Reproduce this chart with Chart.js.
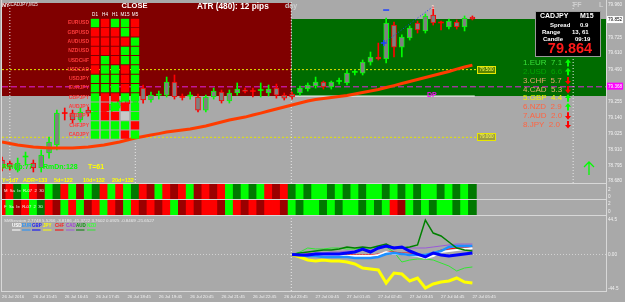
<!DOCTYPE html>
<html>
<head>
<meta charset="utf-8">
<title>CADJPY,M15</title>
<script src="https://cdn.jsdelivr.net/npm/chart.js@4.4.1/dist/chart.umd.min.js"></script>
<style>
  html, body { margin:0; padding:0; background:#a9a9a9; }
  body { position:relative; width:625px; height:302px; overflow:hidden; }
  canvas { position:absolute; display:block; }
</style>
</head>
<body>
<canvas id="cMain" width="625" height="186" style="left:0;top:0;width:625px;height:186px"></canvas>
<canvas id="cS1" width="625" height="16" style="left:0;top:184px;width:625px;height:16px"></canvas>
<canvas id="cS2" width="625" height="16" style="left:0;top:200px;width:625px;height:16px"></canvas>
<canvas id="cInd" width="625" height="86" style="left:0;top:216px;width:625px;height:86px"></canvas>
<canvas id="cHeat" width="101" height="133" style="left:39px;top:8px;width:101px;height:133px"></canvas>
<script>
// ================= DATA =================
const TIME_TICKS = [0,4,8,12,16,20,24,28,32,36,40,44,48,52,56,60];
const TIME_LABELS = ['26 Jul 2016','26 Jul 15:45','26 Jul 16:45','26 Jul 17:45','26 Jul 18:45','26 Jul 19:45',
  '26 Jul 20:45','26 Jul 21:45','26 Jul 22:45','26 Jul 23:45','27 Jul 00:45','27 Jul 01:45','27 Jul 02:45',
  '27 Jul 03:45','27 Jul 04:45','27 Jul 05:45'];

const PRICE_TICKS = [79.960, 79.852, 79.725, 79.610, 79.490, 79.368, 79.255, 79.140, 79.025, 78.910, 78.795, 78.680];
const PRICE_BOXES = { '79.852': ['#ffffff', '#000000'], '79.368': ['#ff00ff', '#ffffff'] };

const CANDLE_IDX = [0,1,2,3,4,5,6,7,8,9,10,11,12,13,14,15,16,17,18,19,20,21,22,23,24,25,26,27,28,29,30,
  31,32,33,34,35,36,37,38,39,40,41,42,43,44,45,46,47,48,49,50,51,52,53,54,55,56,57,58,59,60];
const OPEN  = [78.833,78.811,78.760,78.855,78.811,78.775,78.884,78.942,79.178,79.174,79.124,79.196,79.167,79.225,79.196,79.225,
  79.269,79.247,79.356,79.269,79.305,79.305,79.400,79.295,79.298,79.291,79.196,79.291,79.327,79.262,79.320,79.342,79.338,
  79.338,79.320,79.356,79.305,79.313,79.320,79.349,79.371,79.400,79.364,79.404,79.393,79.470,79.465,79.545,79.582,79.567,
  79.814,79.654,79.720,79.829,79.771,79.887,79.836,79.800,79.836,79.800,79.872];
const HIGH  = [78.855,78.826,78.847,78.891,78.833,78.906,79.000,79.196,79.211,79.196,79.211,79.218,79.233,79.240,79.254,79.269,
  79.283,79.291,79.378,79.327,79.334,79.436,79.451,79.313,79.327,79.313,79.305,79.356,79.342,79.342,79.393,79.356,79.356,
  79.393,79.378,79.385,79.320,79.327,79.371,79.393,79.436,79.407,79.407,79.429,79.487,79.487,79.560,79.618,79.683,79.865,
  79.836,79.742,79.807,79.843,79.894,79.945,79.843,79.858,79.851,79.880,79.880];
const LOW   = [78.753,78.760,78.746,78.796,78.746,78.746,78.847,78.906,79.124,79.102,79.109,79.153,79.153,79.167,79.182,79.211,
  79.225,79.233,79.247,79.254,79.276,79.291,79.276,79.269,79.276,79.182,79.182,79.276,79.247,79.247,79.305,79.320,79.291,
  79.291,79.298,79.283,79.269,79.276,79.305,79.334,79.356,79.349,79.349,79.385,79.378,79.451,79.451,79.523,79.560,79.538,
  79.582,79.582,79.705,79.756,79.756,79.814,79.778,79.785,79.785,79.771,79.851];
const CLOSE = [78.775,78.782,78.811,78.862,78.775,78.869,78.964,79.174,79.171,79.124,79.182,79.174,79.211,79.182,79.240,79.262,
  79.240,79.283,79.269,79.305,79.312,79.400,79.291,79.288,79.305,79.196,79.291,79.334,79.262,79.320,79.349,79.331,79.331,
  79.345,79.349,79.305,79.283,79.291,79.356,79.378,79.400,79.364,79.400,79.411,79.465,79.477,79.545,79.582,79.567,79.829,
  79.654,79.727,79.792,79.778,79.880,79.829,79.829,79.843,79.800,79.865,79.858];
const MA = [78.964,78.953,78.942,78.935,78.927,78.924,78.920,78.920,78.920,78.920,78.924,78.927,78.935,78.942,78.953,78.964,
  78.978,78.993,79.004,79.015,79.025,79.036,79.044,79.051,79.058,79.069,79.080,79.095,79.109,79.124,79.135,79.145,79.160,
  79.174,79.189,79.204,79.218,79.233,79.247,79.262,79.273,79.280,79.287,79.294,79.302,79.313,79.324,79.334,79.345,79.360,
  79.374,79.389,79.404,79.418,79.433,79.447,79.462,79.476,79.494,79.509,79.523];

const LEVELS = [79.490, 78.998];
const LEVEL_LABELS = ['79.500', '79.000'];
const PIVOT_LEVEL = 79.365;
const ZONE_RED_TOP = 79.974, ZONE_GREEN_TOP = 79.858, ZONE_BOTTOM = 79.298;
const DAY_X = 36.9;

const HEAT_TF = ['D1','H4','H1','M15','M5'];
const HEAT_PAIRS = ['EURUSD','GBPUSD','AUDUSD','NZDUSD','USDCHF','USDCAD','USDJPY','EURJPY','GBPJPY','AUDJPY','NZDJPY','CHFJPY','CADJPY'];
const HEAT_STATE = ['GRGGR','RRRGR','RRRRG','RRRGG','RGRGG','RGGRG','GGGRG','GGGRG','GRRGG','GRGRG','GRRNG','GGGGR','GGGRG'];

const STRIP1 = 'rRgGRrGgRGrGgRGRGg' + 'RrGRrRG' + 'rRrR' + 'GgGgG' + 'RrR' + 'gGgGGgGgGgGGgGgGgGGgGgGg';
const STRIP2 = 'RGrRGgRrGRGrRGRrGR' + 'rRrRGrRrRRrGRrRrRRr' + 'GgGGgGgGGgGgGRrGgGgGGgGg';

const IND_IDX = [37,38,39,40,41,42,43,44,45,46,47,48,49,50,51,52,53,54,55,56,57,58,59,60];
const CURRENCIES = ['USD','EUR','GBP','JPY','CHF','CAD','AUD','NZD'];
const IND_USD = [0,0.6,-0.6,-0.6,-0.6,-1.9,-1.9,-1.9,-1.9,-1.9,-1.9,-0.6,3.2,0.6,0.6,-0.6,-1.9,-4.5,-1.9,3.2,4.5,5.8,7.1,8.4];
const IND_EUR = [0,-0.6,-1.9,-1.9,-3.2,-3.2,-3.2,-3.2,-4.5,-4.5,-4.5,-3.2,0.6,1.9,0.6,-0.6,-0.6,-0.6,1.9,4.5,9.7,11.0,11.0,11.0];
const IND_GBP = [0,-0.6,-0.6,0.6,0.6,0.6,0.6,1.9,3.2,7.1,3.2,8.4,11.0,8.4,9.7,4.5,0.6,-3.2,1.9,-0.6,-1.9,-0.6,0.6,1.9];
const IND_JPY = [0,-3.2,-7.1,-8.4,-7.1,-8.4,-8.4,-9.7,-12.3,-17.4,-18.7,-20.0,-36.8,-23.9,-25.2,-34.2,-30.3,-43.2,-38.1,-35.5,-34.2,-30.3,-35.5,-36.8];
const IND_CHF = [0,0.6,0.6,0.6,-0.6,-0.6,-0.6,-0.6,-0.6,-0.6,-0.6,0.6,3.2,3.2,1.9,1.9,0.6,-0.6,1.9,5.8,7.1,8.4,8.4,9.7];
const IND_CAD = [0,0.6,0.6,1.9,1.9,3.2,3.2,4.5,4.5,5.8,5.8,7.1,9.7,9.7,9.7,8.4,8.4,8.4,9.7,11.0,12.3,13.5,13.5,13.5];
const IND_AUD = [0,1.9,3.2,4.5,5.8,5.8,7.1,9.7,8.4,9.7,8.4,11.0,13.5,8.4,8.4,9.7,12.3,44.5,27.7,23.9,16.1,8.4,5.8,4.5];
const IND_NZD = [0,3.2,8.4,7.1,7.1,8.4,8.4,7.1,7.1,8.4,8.4,9.7,9.7,3.2,-9.7,-7.1,-5.8,-5.8,-7.1,-11.0,-14.8,-21.3,-17.4,-16.1];
const IND_TICKS = [44.5, 0, -44.5];
const SM_VALUES = ['2.7748','5.5266','-3.8186','-41.3722','3.7602','0.0925','-0.8469','-21.6527'];

const STRENGTH_NAMES = ['1.EUR','2.USD','3.CHF','4.CAD','5.GBP','6.NZD','7.AUD','8.JPY'];
const STRENGTH_VALUES = [7.1, 6.6, 5.7, 5.3, 4.4, 2.9, 2.0, 2.0];
const STRENGTH_UP = [true, true, false, false, true, true, false, false];

const INFO = { pair:'CADJPY', tf:'M15', spread:'0.9', range:'13, 61', candle:'09:19', price:'79.864' };
const STATS = ['Y=1d7', 'ADR=133', '5d=122', '10d=132', '20d=132'];
const ROOMS = ['RmUp:77', 'RmDn:128', 'T=61'];

// ================= STYLE =================
const FONT = '"Liberation Sans", Arial, sans-serif';
Chart.defaults.font.family = FONT;
const X_MIN = 0, X_MAX = 77.04;
const BULL = '#00ff00', BEAR = '#ff0000', BODY = '#808080';
const STRIP_COLORS = { G:'#00ff00', g:'#007800', R:'#ff0000', r:'#9a0000' };
const HEAT_COLORS = { G:'#00ff00', R:'#ff0000', N:'#c8c8c8' };
const CUR_LINE = ['#ffffff','#1e90ff','#0000ff','#ffff00','#ff0000','#9a5ad8','#008000','#32e632'];
const CUR_TEXT = ['#ffffff','#1e90ff','#1414ff','#ffff00','#ff1a1a','#a040d8','#009a00','#3cff3c'];
const CUR_WIDTH = [2, 2.5, 3, 3, 1, 1, 1.5, 1];
const CUR_ORDER = [4, 3, 1, 7, 5, 6, 2, 6];
const STRENGTH_COLORS = ['#38e038','#00a400','#e2a46a','#e0b06c','#f2f200','#ff6442','#ff6442','#ff6442'];

const common = {
  responsive:false, animation:false, devicePixelRatio:1, events:[],
  plugins:{ legend:{display:false}, tooltip:{enabled:false} }
};
function xHidden(){ return { type:'linear', min:X_MIN, max:X_MAX, display:false, offset:false }; }

function txt(ctx, s, x, y, color, size, weight, align) {
  ctx.save();
  ctx.font = (weight || 'normal') + ' ' + size + 'px ' + FONT;
  ctx.fillStyle = color; ctx.textAlign = align || 'left'; ctx.textBaseline = 'middle';
  ctx.fillText(s, x, y);
  ctx.restore();
}
function frame(){
  return { id:'frame', afterDraw(chart){
    const {ctx, chartArea:a} = chart;
    ctx.save(); ctx.strokeStyle = '#d8d8d8'; ctx.lineWidth = 1; ctx.beginPath();
    ctx.moveTo(a.left - 0.5, a.bottom + 0.5); ctx.lineTo(a.right + 0.5, a.bottom + 0.5);
    ctx.moveTo(a.left - 0.5, a.top); ctx.lineTo(a.left - 0.5, a.bottom + 1);
    ctx.moveTo(a.right + 0.5, a.top); ctx.lineTo(a.right + 0.5, a.bottom + 1);
    ctx.stroke(); ctx.restore();
  }};
}
function arrow(ctx, cx, cy, up, color){
  const d = up ? -1 : 1;
  ctx.save(); ctx.fillStyle = color; ctx.beginPath();
  ctx.moveTo(cx, cy + d*4); ctx.lineTo(cx - 3, cy + d*0.3); ctx.lineTo(cx - 1, cy + d*0.3);
  ctx.lineTo(cx - 1, cy - d*3.5); ctx.lineTo(cx + 1, cy - d*3.5); ctx.lineTo(cx + 1, cy + d*0.3);
  ctx.lineTo(cx + 3, cy + d*0.3); ctx.closePath(); ctx.fill(); ctx.restore();
}
function hline(y, x0, x1, color, dash, width, order){
  return { type:'line', data:[{x:x0, y}, {x:x1, y}], borderColor:color, borderDash:dash, borderWidth:width,
    pointRadius:0, fill:false, order };
}
function vline(x, y0, y1, color, order){
  return { type:'line', data:[{x, y:y0}, {x, y:y1}], borderColor:color, borderDash:[1,2], borderWidth:1,
    pointRadius:0, fill:false, order };
}
function zone(x0, x1, top, color){
  return { type:'line', data:[{x:x0, y:top}, {x:x1, y:top}], fill:{value:ZONE_BOTTOM}, backgroundColor:color,
    borderColor:'rgba(0,0,0,0)', borderWidth:1, pointRadius:0, order:30 };
}

// ================= MAIN CHART =================
const PRICE_MIN = 78.666, PRICE_MAX = 79.996;
const candleColor = CANDLE_IDX.map(k => CLOSE[k] >= OPEN[k] ? BULL : BEAR);
const isDoji = CANDLE_IDX.map(k => Math.abs(CLOSE[k] - OPEN[k]) < 0.008);

const mainTexts = { id:'mainTexts', afterDatasetsDraw(chart){
  const ctx = chart.ctx, ys = chart.scales.y;
  txt(ctx, 'NY', 2, 5.5, '#ffffff', 5.5, 'bold');
  txt(ctx, 'CADJPY,M15', 10.5, 5, '#f0f0f0', 4.5);
  txt(ctx, 'CLOSE', 134.5, 6, '#ffffff', 7.5, 'bold', 'center');
  txt(ctx, 'ATR (480): 12 pips', 197, 6.5, '#ffffff', 8.3, 'bold');
  txt(ctx, 'day', 285, 6, '#cfcfcf', 7, 'bold');
  txt(ctx, 'FF', 573, 5.5, '#cfcfcf', 7, 'bold');
  txt(ctx, 'L', 599, 5.5, '#cfcfcf', 7, 'bold');
  txt(ctx, '1', 433, 7, '#ffd8c8', 6, 'bold', 'center');
  LEVELS.forEach((v, k) => {
    const y = Math.round(ys.getPixelForValue(v));
    ctx.save(); ctx.fillStyle = 'rgba(150,150,0,0.6)'; ctx.fillRect(477, y - 3.5, 18, 7);
    ctx.strokeStyle = '#e6e600'; ctx.lineWidth = 1; ctx.strokeRect(477.5, y - 3.5, 18, 7); ctx.restore();
    txt(ctx, LEVEL_LABELS[k], 486.5, y, '#ffff50', 4.6, 'normal', 'center');
  });
  txt(ctx, 'DP', 427, 95, '#ff00ff', 7, 'bold');
  ctx.save(); ctx.fillStyle = '#000000'; ctx.fillRect(535, 11, 66, 46);
  ctx.strokeStyle = '#9a9a9a'; ctx.lineWidth = 1; ctx.strokeRect(535.5, 11.5, 65, 45); ctx.restore();
  txt(ctx, INFO.pair, 540, 16, '#ffffff', 7, 'bold');
  txt(ctx, INFO.tf, 580, 16, '#ffffff', 7, 'bold');
  txt(ctx, 'Spread', 550, 25, '#ffffff', 6, 'bold');
  txt(ctx, INFO.spread, 580, 25, '#ffffff', 6, 'bold');
  txt(ctx, 'Range', 542, 32.5, '#ffffff', 6, 'bold');
  txt(ctx, INFO.range, 572, 32.5, '#ffffff', 6, 'bold');
  txt(ctx, 'Candle', 543, 39.5, '#ffffff', 6, 'bold');
  txt(ctx, INFO.candle, 575, 39.5, '#ffffff', 6, 'bold');
  txt(ctx, INFO.price, 570, 49, '#ff1a1a', 14.5, 'bold', 'center');
  STRENGTH_NAMES.forEach((n, k) => {
    const y = 63 + 8.8 * k;
    txt(ctx, n + '  ' + STRENGTH_VALUES[k].toFixed(1), 523, y, STRENGTH_COLORS[k], 8);
    arrow(ctx, 568, y, STRENGTH_UP[k], STRENGTH_UP[k] ? '#00ff00' : '#ff0000');
  });
  ctx.save(); ctx.strokeStyle = '#00ff00'; ctx.lineWidth = 1.3; ctx.beginPath();
  ctx.moveTo(589, 175); ctx.lineTo(589, 162); ctx.moveTo(584, 167); ctx.lineTo(589, 162); ctx.lineTo(594, 167);
  ctx.stroke(); ctx.restore();
  txt(ctx, ROOMS[0], 2, 167, '#00ff00', 7, 'bold');
  txt(ctx, ROOMS[1], 43, 167, '#00ff00', 7, 'bold');
  txt(ctx, ROOMS[2], 88, 167, '#ffff00', 7, 'bold');
  const STAT_X = [2, 23, 54, 83, 112];
  STATS.forEach((s, k) => txt(ctx, s, STAT_X[k], 180.5, '#ffff00', 5.5, 'bold'));
}};

new Chart(document.getElementById('cMain'), {
  type:'bar',
  data:{ datasets:[
    zone(X_MIN, DAY_X, ZONE_RED_TOP, '#800000'),
    zone(DAY_X, X_MAX, ZONE_GREEN_TOP, '#006c00'),
    hline(LEVELS[0], X_MIN, 60.46, '#e6e600', [2,2], 1, 15),
    hline(LEVELS[1], X_MIN, 60.46, '#e6e600', [2,2], 1, 15),
    hline(PIVOT_LEVEL, X_MIN, X_MAX, '#e020e0', [6,3], 1, 15),
    hline(ZONE_BOTTOM, DAY_X, 60.3, '#ffffff', [], 1, 15),
    vline(1.0, PRICE_MIN, PRICE_MAX, '#e8e8e8', 14),
    vline(DAY_X, PRICE_MIN, PRICE_MAX, '#e8e8e8', 14),
    vline(17.0, PRICE_MIN, 78.971, '#e8e8e8', 14),
    vline(72.85, PRICE_MIN, PRICE_MAX, '#e8e8e8', 14),
    { type:'bar', data: CANDLE_IDX.map(k => ({x:k, y:[LOW[k], HIGH[k]]})), backgroundColor: candleColor,
      borderWidth:0, barThickness:1, grouped:false, order:6 },
    { type:'bar', data: CANDLE_IDX.map(k => ({x:k, y:[OPEN[k], CLOSE[k]]})),
      backgroundColor: CANDLE_IDX.map(k => isDoji[k] ? candleColor[k] : BODY),
      borderColor: candleColor, borderWidth: CANDLE_IDX.map(k => isDoji[k] ? 0 : 1),
      borderSkipped:false, barThickness:5, grouped:false, order:5 },
    { type:'line', data: CANDLE_IDX.map(k => ({x:k, y:MA[k]})), borderColor:'#ff3c00', borderWidth:3,
      pointRadius:0, fill:false, tension:0, order:3 },
    { type:'line', data:[{x:48.7, y:79.683}, {x:54.9, y:79.945}], borderColor:'#1a3cff', borderDash:[1,2],
      borderWidth:1, pointRadius:0, fill:false, order:2 },
    { type:'line', data:[{x:48.7, y:79.683}], showLine:false, pointStyle:'cross', pointRadius:3,
      pointBorderColor:'#2040ff', pointBorderWidth:1.5, order:1 },
    { type:'line', data:[{x:49.0, y:79.923}], showLine:false, pointStyle:'line', pointRadius:3,
      pointBorderColor:'#2040ff', pointBorderWidth:1.5, order:1 }
  ]},
  options:{ ...common,
    layout:{ autoPadding:false, padding:{ left:2, right:0, top:0, bottom:3 } },
    scales:{
      x: xHidden(),
      y: { type:'linear', position:'right', min:PRICE_MIN, max:PRICE_MAX,
        afterBuildTicks: s => { s.ticks = PRICE_TICKS.map(v => ({value:v})); },
        afterFit: s => { s.width = 19; s.paddingTop = 0; s.paddingBottom = 0; },
        grid:{ display:false, drawTicks:false }, border:{ display:false },
        ticks:{ autoSkip:false, padding:2, font:{ size:4.6 },
          color: c => PRICE_BOXES[c.tick.value.toFixed(3)] ? PRICE_BOXES[c.tick.value.toFixed(3)][1] : '#f2f2f2',
          callback: v => v.toFixed(3),
          showLabelBackdrop: c => !!PRICE_BOXES[c.tick.value.toFixed(3)],
          backdropColor: c => PRICE_BOXES[c.tick.value.toFixed(3)] ? PRICE_BOXES[c.tick.value.toFixed(3)][0] : 'rgba(0,0,0,0)',
          backdropPadding:{ top:1, bottom:0.5, left:1, right:1 } } }
    }
  },
  plugins:[frame(), mainTexts]
});

// ================= STRIPS =================
function stripChart(id, codes, lo, hi, label){
  const cols = codes.split('');
  const stripText = { id:'stripText', afterDraw(chart){
    txt(chart.ctx, label, 4, 6.5, '#f0f0f0', 4.2);
  }};
  return new Chart(document.getElementById(id), {
    type:'bar',
    data:{ datasets:[{ data: CANDLE_IDX.map(k => ({x:k, y:[lo, hi]})), backgroundColor: CANDLE_IDX.map(k => STRIP_COLORS[cols[k]]),
      borderWidth:0, barThickness:8, grouped:false }] },
    options:{ ...common,
      layout:{ autoPadding:false, padding:{ left:2, right:0, top:0, bottom:1 } },
      scales:{
        x: xHidden(),
        y: { type:'linear', position:'right', min:lo, max:hi,
          afterBuildTicks: s => { s.ticks = [{value:2}, {value:0}]; },
          afterFit: s => { s.width = 19; s.paddingTop = 0; s.paddingBottom = 0; },
          grid:{ display:false, drawTicks:false }, border:{ display:false },
          ticks:{ autoSkip:false, padding:2, font:{ size:4.6 }, color:'#f2f2f2', callback: v => String(v) } }
      }
    },
    plugins:[frame(), stripText]
  });
}
stripChart('cS1', STRIP1, -0.571, 3.714, 'M  Sa  Ie  R-07  2  30');
stripChart('cS2', STRIP2, -0.75, 3.0, 'F  Sa  Ie  R-07  2  30');

// ================= INDICATOR PANE =================
const IND_SERIES = [IND_USD, IND_EUR, IND_GBP, IND_JPY, IND_CHF, IND_CAD, IND_AUD, IND_NZD];
const IND_MIN = -47.09, IND_MAX = 49.67;
const indTexts = { id:'indTexts', afterDraw(chart){
  const ctx = chart.ctx;
  txt(ctx, 'SMSession ' + SM_VALUES.join(' '), 4, 4.5, '#ececec', 4.4);
  const LEG_X = [12, 22, 32, 43, 55, 66, 76, 87];
  CURRENCIES.forEach((c, k) => {
    txt(ctx, c, LEG_X[k], 10, CUR_TEXT[k], 4.5, 'bold');
    ctx.save(); ctx.fillStyle = CUR_LINE[k]; ctx.fillRect(LEG_X[k], 13.5, 8.5, 1); ctx.restore();
  });
}};
new Chart(document.getElementById('cInd'), {
  type:'line',
  data:{ datasets: [
    ...IND_SERIES.map((s, k) => ({ data: IND_IDX.map((x, j) => ({x, y:s[j]})), borderColor:CUR_LINE[k],
      borderWidth:CUR_WIDTH[k], pointRadius:0, fill:false, tension:0, order:CUR_ORDER[k] })),
    hline(0, X_MIN, X_MAX, '#d2d2d2', [1,2], 1, 20),
    vline(DAY_X, IND_MIN, IND_MAX, '#e8e8e8', 19)
  ]},
  options:{ ...common,
    layout:{ autoPadding:false, padding:{ left:2, right:0, top:0, bottom:0 } },
    scales:{
      x: { type:'linear', min:X_MIN, max:X_MAX, offset:false,
        afterBuildTicks: s => { s.ticks = TIME_TICKS.map(v => ({value:v})); },
        afterFit: s => { s.height = 11; s.paddingLeft = 0; s.paddingRight = 0; },
        grid:{ display:false, drawTicks:false }, border:{ display:false },
        ticks:{ autoSkip:false, maxRotation:0, minRotation:0, align:'start', padding:3, font:{ size:4.3 }, color:'#f2f2f2',
          callback: v => TIME_LABELS[TIME_TICKS.indexOf(v)] } },
      y: { type:'linear', position:'right', min:IND_MIN, max:IND_MAX,
        afterBuildTicks: s => { s.ticks = IND_TICKS.map(v => ({value:v})); },
        afterFit: s => { s.width = 19; s.paddingTop = 0; s.paddingBottom = 0; },
        grid:{ display:false, drawTicks:false }, border:{ display:false },
        ticks:{ autoSkip:false, padding:2, font:{ size:4.6 }, color:'#f2f2f2',
          callback: v => v === 0 ? '0.00' : String(v) } }
    }
  },
  plugins:[frame(), indTexts]
});

// ================= HEAT GRID =================
const heatCells = [], heatColors = [];
HEAT_PAIRS.forEach((p, r) => HEAT_TF.forEach((t, c) => {
  heatCells.push({x:c, y:r}); heatColors.push(HEAT_COLORS[HEAT_STATE[r][c]]);
}));
new Chart(document.getElementById('cHeat'), {
  type:'scatter',
  data:{ datasets:[{ data:heatCells, pointStyle:'rect', pointRadius:5.9, pointBackgroundColor:heatColors, pointBorderWidth:0 }] },
  options:{ ...common,
    layout:{ autoPadding:false, padding:{ left:0, right:0, top:0, bottom:1.7 } },
    scales:{
      x: { type:'linear', position:'top', min:-0.5, max:4.5,
        afterBuildTicks: s => { s.ticks = HEAT_TF.map((t, i) => ({value:i})); },
        afterFit: s => { s.height = 10.3; s.paddingLeft = 0; s.paddingRight = 0; },
        grid:{ display:false, drawTicks:false }, border:{ display:false },
        ticks:{ autoSkip:false, maxRotation:0, padding:1, font:{ size:4.6 }, color:'#ffffff', callback: v => HEAT_TF[v] } },
      y: { type:'linear', position:'left', reverse:true, min:-0.5, max:12.5,
        afterBuildTicks: s => { s.ticks = HEAT_PAIRS.map((p, i) => ({value:i})); },
        afterFit: s => { s.width = 51; s.paddingTop = 0; s.paddingBottom = 0; },
        grid:{ display:false, drawTicks:false }, border:{ display:false },
        ticks:{ autoSkip:false, padding:1, font:{ size:5, weight:'bold' }, color:'#ff3b3b', callback: v => HEAT_PAIRS[v] } }
    }
  }
});
</script>
</body>
</html>
